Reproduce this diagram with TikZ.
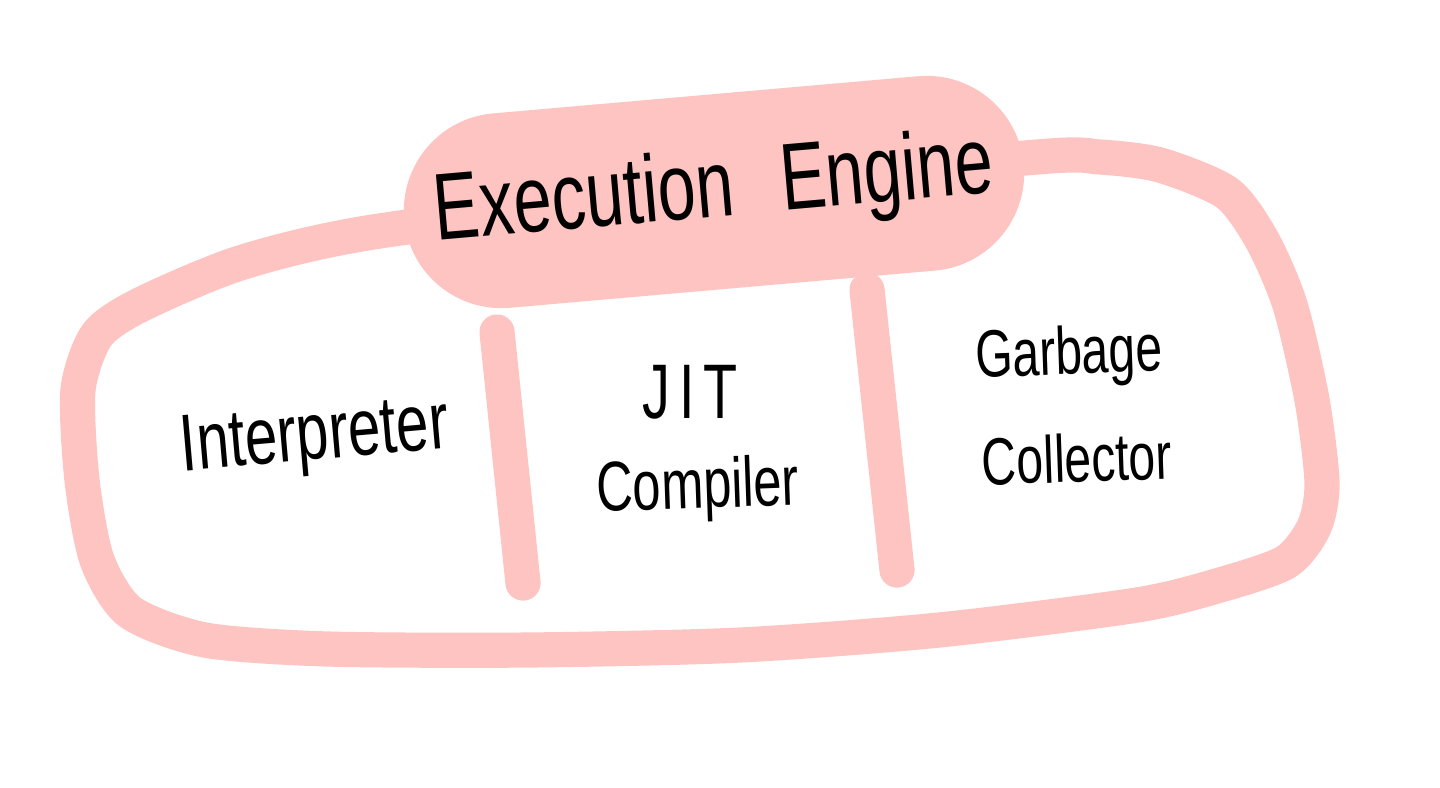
\documentclass[tikz,border=0pt]{standalone}
\usepackage{fontspec}
\setmainfont{Liberation Sans}
\newfontfamily\handfont[FakeStretch=0.72]{Liberation Sans}
\usepackage{xcolor}
\usetikzlibrary{shapes.misc}

\definecolor{enginepink}{RGB}{254,196,193}

\tikzset{
  frame/.style={draw=enginepink, line width=10pt, line cap=round, line join=round},
  engine/.style={rounded rectangle, fill=enginepink, minimum width=6.45cm, minimum height=1.95cm, rotate=5, font=\handfont\fontsize{27}{32}\selectfont},
  parttext/.style={font=\handfont\fontsize{19}{23}\selectfont}
}

\begin{document}
\begin{tikzpicture}[x=0.01cm,y=-0.01cm]
            \useasboundingbox (0,0) rectangle (1440,787);
            \draw[frame] plot[smooth cycle, tension=0.45] coordinates {
              (700,190) (1037,157) (1100,157) (1160,165) (1227,193) (1262,240)
              (1290,305) (1312,400) (1322,483) (1314,527) (1286,562) (1220,585)
              (1137,605) (939,630) (740,645) (528,650) (328,649) (205,640)
              (130,612) (97,560) (82,480) (78,390) (97,335) (140,305)
              (240,263) (373,232)};
            \node[engine](engine) at (714,192) {Execution\hspace{0.5em}Engine};
            \coordinate (cut1top) at (497,332);
            \coordinate (cut1bot) at (523,583);
            \coordinate (cut2top) at (867,290);
            \coordinate (cut2bot) at (897,570);
            \draw[frame] (cut1top) -- (cut1bot);
            \draw[frame] (cut2top) -- (cut2bot);
            \node[parttext,font=\handfont\fontsize{23}{27}\selectfont,rotate=5](interp) at (315,440) {Interpreter};
            \node[parttext,font=\handfont\fontsize{22}{26}\selectfont](jit) at (690,392) {J\hspace{0.12em}I\hspace{0.12em}T};
            \node[parttext,font=\handfont\fontsize{20}{24}\selectfont,rotate=2](compiler) at (698,490) {Compiler};
            \node[parttext,rotate=2](garbage) at (1069,357) {Garbage};
            \node[parttext,rotate=2](collector) at (1077,458) {Collector};
        \end{tikzpicture}
\end{document}
